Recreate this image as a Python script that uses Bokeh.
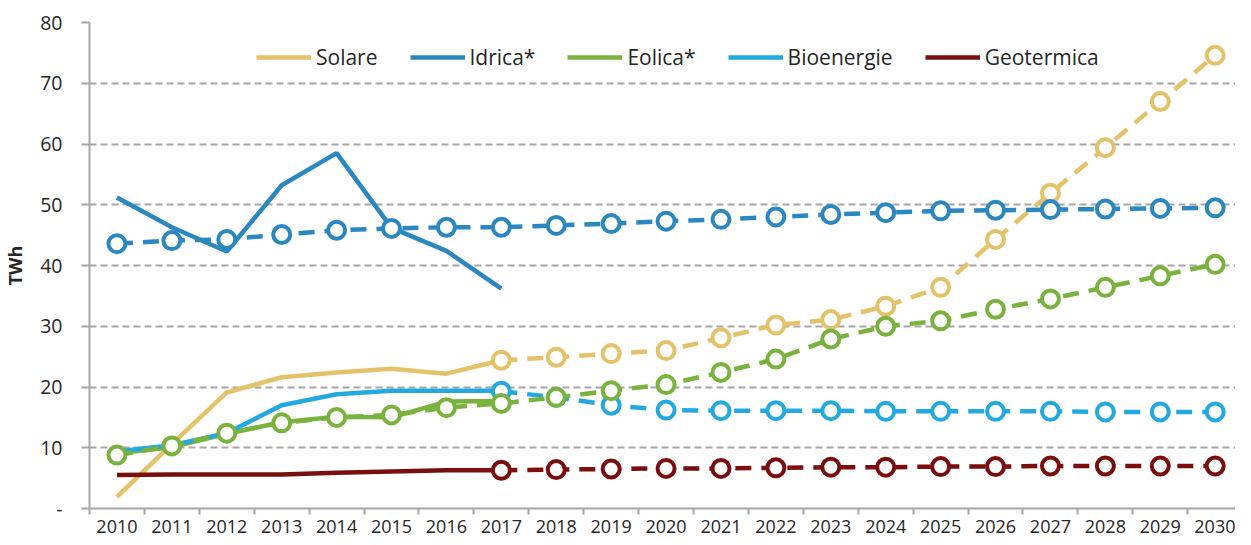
from bokeh.plotting import figure
from bokeh.models import Range1d, FixedTicker, Legend, LegendItem
from bokeh.embed import file_html
from bokeh.resources import INLINE

years = list(range(2010, 2031))
hist_years = list(range(2010, 2018))
proj_years = list(range(2017, 2031))

# Historical (solid lines)
solare_hist = [1.9, 10.6, 19.1, 21.6, 22.4, 23.0, 22.2, 24.4]
idrica_hist = [51.2, 46.3, 42.3, 53.2, 58.5, 46.2, 42.4, 36.2]
eolica_hist = [9.1, 10.1, 12.3, 14.2, 15.1, 15.0, 17.6, 17.7]
bio_hist = [9.4, 10.4, 12.4, 17.0, 18.8, 19.4, 19.4, 19.4]
geo_hist = [5.5, 5.6, 5.6, 5.6, 5.9, 6.1, 6.3, 6.3]

# Scenario (dashed lines with markers)
idrica_proj_years = years
idrica_proj = [43.6, 44.1, 44.3, 45.1, 45.8, 46.1, 46.3, 46.3, 46.6, 46.9, 47.3,
               47.6, 48.0, 48.4, 48.7, 49.0, 49.1, 49.2, 49.3, 49.4, 49.5]
eolica_proj_years = years
eolica_proj = [8.8, 10.3, 12.4, 14.1, 15.0, 15.4, 16.6, 17.3, 18.3, 19.4, 20.4,
               22.4, 24.6, 27.9, 30.0, 30.9, 32.8, 34.5, 36.4, 38.3, 40.2]
solare_proj = [24.4, 24.9, 25.5, 26.0, 28.1, 30.2, 31.1, 33.3, 36.4, 44.3,
               51.9, 59.4, 67.0, 74.6]
bio_proj = [19.3, 18.3, 17.0, 16.2, 16.1, 16.1, 16.1, 16.0, 16.0, 16.0, 16.0,
            15.9, 15.9, 15.9]
geo_proj = [6.3, 6.4, 6.5, 6.6, 6.6, 6.7, 6.8, 6.8, 6.9, 6.9, 7.0, 7.0, 7.0, 7.0]

y_ticks = [0, 10, 20, 30, 40, 50, 60, 70, 80]
y_labels = ["-", "10", "20", "30", "40", "50", "60", "70", "80"]

names = ["Solare", "Idrica*", "Eolica*", "Bioenergie", "Geotermica"]
colors = ["#E3C26A", "#2A87C0", "#79B23C", "#22A9E0", "#7A0E0E"]

FONT = "Open Sans"
GRID = "#A6A6A6"
TXT = "#262626"

p = figure(width=1235, height=537, output_backend="svg", toolbar_location=None,
           x_range=Range1d(2009.5, 2030.37), y_range=Range1d(0, 80),
           min_border_left=83, min_border_right=0, min_border_top=22,
           min_border_bottom=29)
p.outline_line_color = None
p.background_fill_color = "white"

# grids
p.xgrid.grid_line_color = None
p.ygrid.grid_line_color = GRID
p.ygrid.grid_line_dash = "7 4"
p.ygrid.grid_line_width = 2
p.ygrid.ticker = FixedTicker(ticks=y_ticks[1:])

# y axis
p.yaxis.ticker = FixedTicker(ticks=y_ticks)
p.yaxis.major_label_overrides = {t: l for t, l in zip(y_ticks, y_labels)}
p.yaxis.axis_line_color = GRID
p.yaxis.axis_line_width = 2
p.yaxis.major_tick_line_color = GRID
p.yaxis.major_tick_line_width = 2
p.yaxis.major_tick_out = 8
p.yaxis.major_tick_in = 0
p.yaxis.minor_tick_line_color = None
p.yaxis.major_label_text_font = FONT
p.yaxis.major_label_text_font_size = "19.5px"
p.yaxis.major_label_text_color = TXT
p.yaxis.major_label_standoff = 19
p.yaxis.axis_label = "TWh"
p.yaxis.axis_label_text_font = FONT
p.yaxis.axis_label_text_font_size = "18px"
p.yaxis.axis_label_text_font_style = "bold"
p.yaxis.axis_label_text_color = TXT
p.yaxis.axis_label_standoff = 10

# x axis
boundaries = [y + 0.5 for y in range(2009, 2031)]
p.xaxis.ticker = FixedTicker(ticks=years, minor_ticks=boundaries)
p.xaxis.axis_line_color = GRID
p.xaxis.axis_line_width = 2
p.xaxis.major_tick_line_color = None
p.xaxis.major_tick_out = 0
p.xaxis.major_tick_in = 0
p.xaxis.minor_tick_line_color = GRID
p.xaxis.minor_tick_line_width = 2
p.xaxis.minor_tick_out = 6
p.xaxis.minor_tick_in = 0
p.xaxis.major_label_text_font = FONT
p.xaxis.major_label_text_font_size = "18px"
p.xaxis.major_label_text_color = TXT
p.xaxis.major_label_standoff = 5

LW = 4.5
DASH = "16 10"
MS = 17

hist = [solare_hist, idrica_hist, eolica_hist, bio_hist, geo_hist]
proj = [(proj_years, solare_proj, colors[0]),
        (idrica_proj_years, idrica_proj, colors[1]),
        (proj_years, bio_proj, colors[3]),
        (eolica_proj_years, eolica_proj, colors[2]),
        (proj_years, geo_proj, colors[4])]

solid_renderers = []
for h, c in zip(hist, colors):
    r = p.line(hist_years, h, line_color=c, line_width=LW)
    solid_renderers.append(r)

for px, py, c in proj:
    p.line(px, py, line_color=c, line_width=LW, line_dash=DASH)
    p.scatter(px, py, size=MS, marker="circle", fill_color="white",
              line_color=c, line_width=4)

legend = Legend(items=[LegendItem(label=n, renderers=[r])
                       for n, r in zip(names, solid_renderers)],
                orientation="horizontal", location=(167, 437))
legend.border_line_color = None
legend.background_fill_alpha = 0
legend.padding = 0
legend.margin = 0
legend.spacing = 32
legend.glyph_width = 55
legend.glyph_height = 20
legend.label_height = 20
legend.label_standoff = 5
legend.label_text_font = FONT
legend.label_text_font_size = "21px"
legend.label_text_color = TXT
p.add_layout(legend)

open("out.html", "w").write(file_html(p, INLINE))
